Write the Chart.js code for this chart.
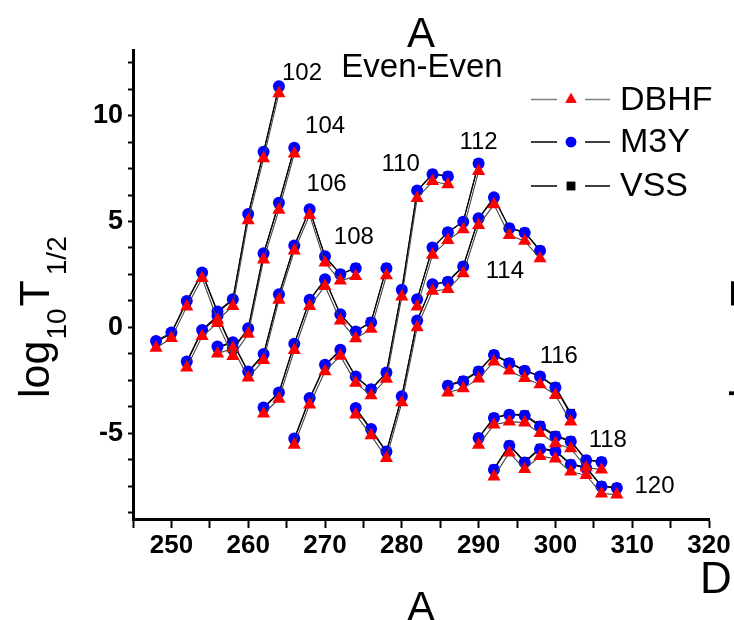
<!DOCTYPE html>
<html lang="en">
<head>
<meta charset="UTF-8">
<title>Even-Even alpha decay half-lives</title>
<script src="https://cdn.jsdelivr.net/npm/chart.js"></script>
<style>
  body { margin: 0; padding: 0; background: #fff; }
  #wrap { width: 734px; height: 620px; }
</style>
</head>
<body>
<div id="wrap"><canvas id="chart" width="734" height="620"></canvas></div>
<script>
// mass numbers A and log10 T1/2, one chain per Z
const a102 = [248, 250, 252, 254, 256, 258, 260, 262, 264];
const dbhf102 = [-0.97, -0.51, 0.98, 2.32, 0.35, 1.0, 5.05, 7.98, 11.05];
const m3y102 = [-0.64, -0.24, 1.25, 2.59, 0.75, 1.33, 5.35, 8.29, 11.39];
const vss102 = [-0.7, -0.28, 1.21, 2.55, 0.7, 1.3, 5.31, 8.25, 11.35];

const a104 = [252, 254, 256, 258, 260, 262, 264, 266];
const dbhf104 = [-1.9, -0.42, 0.2, -1.36, -0.31, 3.2, 5.55, 8.2];
const m3y104 = [-1.61, -0.12, 0.55, -1.0, -0.04, 3.5, 5.89, 8.48];
const vss104 = [-1.66, -0.17, 0.5, -1.05, -0.08, 3.45, 5.85, 8.45];

const a106 = [256, 258, 260, 262, 264, 266, 268, 270, 272, 274];
const dbhf106 = [-1.24, -0.99, -2.38, -1.55, 1.3, 3.62, 5.3, 3.05, 2.2, 2.42];
const m3y106 = [-0.9, -0.7, -2.08, -1.26, 1.56, 3.87, 5.58, 3.36, 2.51, 2.79];
const vss106 = [-0.95, -0.74, -2.12, -1.3, 1.52, 3.83, 5.55, 3.33, 2.52, 2.82];

const a108 = [262, 264, 266, 268, 270, 272, 274, 276, 278];
const dbhf108 = [-4.08, -3.38, -1.08, 1.0, 1.95, 0.32, -0.52, -0.08, 2.45];
const m3y108 = [-3.78, -3.07, -0.77, 1.3, 2.27, 0.62, -0.2, 0.23, 2.79];
const vss108 = [-3.82, -3.1, -0.8, 1.27, 2.25, 0.6, -0.18, 0.27, 2.82];

const a110 = [266, 268, 270, 272, 274, 276, 278, 280, 282, 284, 286];
const dbhf110 = [-5.55, -3.65, -2.08, -1.35, -2.62, -3.22, -2.43, 1.45, 6.1, 6.9, 6.75];
const m3y110 = [-5.25, -3.34, -1.77, -1.06, -2.32, -2.92, -2.13, 1.78, 6.46, 7.23, 7.13];
const vss110 = [-5.3, -3.38, -1.8, -1.1, -2.34, -2.95, -2.16, 1.75, 6.45, 7.25, 7.16];

const a112 = [282, 284, 286, 288, 290];
const dbhf112 = [0.98, 3.42, 4.12, 4.62, 7.38];
const m3y112 = [1.33, 3.77, 4.49, 4.99, 7.74];
const vss112 = [1.3, 3.75, 4.5, 5.0, 7.76];

const a114 = [274, 276, 278, 280, 282, 284, 286, 288, 290, 292, 294, 296, 298];
const dbhf114 = [-4.12, -5.1, -6.18, -3.55, 0.0, 1.72, 1.8, 2.55, 4.82, 5.8, 4.35, 4.08, 3.25];
const m3y114 = [-3.81, -4.8, -5.86, -3.25, 0.33, 2.04, 2.16, 2.87, 5.15, 6.14, 4.68, 4.47, 3.62];
const vss114 = [-3.85, -4.85, -5.9, -3.28, 0.3, 2.02, 2.18, 2.9, 5.12, 6.1, 4.7, 4.5, 3.65];

const a116 = [286, 288, 290, 292, 294, 296, 298, 300, 302];
const dbhf116 = [-3.08, -2.88, -2.42, -1.62, -2.05, -2.4, -2.7, -3.2, -4.45];
const m3y116 = [-2.76, -2.55, -2.08, -1.3, -1.69, -2.05, -2.32, -2.84, -4.13];
const vss116 = [-2.72, -2.5, -2.05, -1.28, -1.65, -2.02, -2.3, -2.8, -4.05];

const a118 = [290, 292, 294, 296, 298, 300, 302, 304, 306];
const dbhf118 = [-5.55, -4.6, -4.45, -4.5, -5.0, -5.48, -5.72, -6.62, -6.72];
const m3y118 = [-5.23, -4.28, -4.13, -4.17, -4.68, -5.15, -5.39, -6.28, -6.36];
const vss118 = [-5.2, -4.25, -4.1, -4.12, -4.62, -5.1, -5.35, -6.25, -6.33];

const a120 = [292, 294, 296, 298, 300, 302, 304, 306, 308];
const dbhf120 = [-7.05, -5.92, -6.7, -6.08, -6.2, -6.82, -6.98, -7.85, -7.9];
const m3y120 = [-6.72, -5.59, -6.38, -5.75, -5.86, -6.49, -6.64, -7.51, -7.59];
const vss120 = [-6.68, -5.55, -6.33, -5.7, -5.82, -6.45, -6.6, -7.48, -7.56];

const chainNames = ['102', '104', '106', '108', '110', '112', '114', '116', '118', '120'];
const massNumbers = [a102, a104, a106, a108, a110, a112, a114, a116, a118, a120];
const dbhfChains = [dbhf102, dbhf104, dbhf106, dbhf108, dbhf110, dbhf112, dbhf114, dbhf116, dbhf118, dbhf120];
const m3yChains = [m3y102, m3y104, m3y106, m3y108, m3y110, m3y112, m3y114, m3y116, m3y118, m3y120];
const vssChains = [vss102, vss104, vss106, vss108, vss110, vss112, vss114, vss116, vss118, vss120];

const xTicks = [250, 260, 270, 280, 290, 300, 310, 320];
const yTicks = [-5, 0, 5, 10];

// where the Z labels sit, in axis units (A, log T)
const labelSpots = {
  '102': [264.4, 11.7], '104': [267.4, 9.2], '106': [267.6, 6.46], '108': [271.15, 3.96],
  '110': [277.36, 7.37], '112': [287.5, 8.44], '114': [290.93, 2.31], '116': [297.95, -1.7],
  '118': [304.33, -5.65], '120': [310.3, -7.83]
};

const FONT = '"Liberation Sans", Arial, sans-serif';

const models = [
  { name: 'DBHF', chains: dbhfChains, line: '#444', fill: '#ff0000', style: 'triangle', r: 7.6 },
  { name: 'M3Y', chains: m3yChains, line: '#000', fill: '#0000ff', style: 'circle', r: 6 },
  { name: 'VSS', chains: vssChains, line: '#000', fill: '#000', style: 'rect', r: 6 }
];

// first datasets end up on top, so DBHF goes first and VSS last
const datasets = [];
models.forEach(function (m) {
  m.chains.forEach(function (vals, i) {
    datasets.push({
      label: m.name + ' Z=' + chainNames[i],
      data: vals.map(function (v, j) { return { x: massNumbers[i][j], y: v }; }),
      borderColor: m.line,
      borderWidth: 1.1,
      pointStyle: m.style,
      pointRadius: m.r,
      pointBackgroundColor: m.fill,
      pointBorderWidth: 0,
      tension: 0,
      fill: false
    });
  });
});

function drawYTitle(ctx, dx) {
  ctx.save();
  ctx.translate(49 + dx, 398);
  ctx.rotate(-Math.PI / 2);
  ctx.fillStyle = '#000';
  ctx.textAlign = 'left';
  ctx.textBaseline = 'alphabetic';
  let x = 0;
  ctx.font = '43px ' + FONT;
  ctx.fillText('log', x, 0);
  x += ctx.measureText('log').width + 1;
  ctx.font = '28px ' + FONT;
  ctx.fillText('10', x, 17);
  x += ctx.measureText('10').width + 2;
  ctx.font = '43px ' + FONT;
  ctx.fillText('T', x, 0);
  x += ctx.measureText('T').width + 5;
  ctx.font = '28px ' + FONT;
  ctx.fillText('1/2', x, 17);
  ctx.restore();
}

const textPlugin = {
  id: 'texts',
  afterDraw(chart) {
    const ctx = chart.ctx;
    const xs = chart.scales.x, ys = chart.scales.y;
    ctx.save();
    ctx.fillStyle = '#000';

    // chain labels
    ctx.font = '24px ' + FONT;
    ctx.textAlign = 'left';
    ctx.textBaseline = 'alphabetic';
    chainNames.forEach(function (n) {
      const p = labelSpots[n];
      ctx.fillText(n, xs.getPixelForValue(p[0]), ys.getPixelForValue(p[1]));
    });

    // titles
    ctx.textAlign = 'center';
    ctx.font = '42px ' + FONT;
    ctx.fillText('A', 421, 47);
    ctx.fillText('A', 421, 621);
    ctx.font = '33px ' + FONT;
    ctx.fillText('Even-Even', 422, 77);
    ctx.textAlign = 'left';
    ctx.font = '44px ' + FONT;
    ctx.fillText('D', 700, 593);

    drawYTitle(ctx, 0);
    drawYTitle(ctx, 711); // the next panel's title, cut by the edge

    // legend: line, marker, line, text
    const rows = [99.5, 142, 186];
    models.forEach(function (m, i) {
      const y = rows[i];
      ctx.strokeStyle = i === 0 ? '#808080' : '#000';
      ctx.lineWidth = 1.3;
      ctx.beginPath();
      ctx.moveTo(531, y); ctx.lineTo(557, y);
      ctx.moveTo(585, y); ctx.lineTo(610, y);
      ctx.stroke();
      ctx.fillStyle = m.fill;
      Chart.helpers.drawPoint(ctx, { pointStyle: m.style, radius: i === 0 ? 6.5 : (i === 1 ? 5.3 : 6), borderWidth: 0 }, 571, y);
      ctx.fill();
      ctx.fillStyle = '#000';
      ctx.font = '34px ' + FONT;
      ctx.textBaseline = 'middle';
      ctx.fillText(m.name, 620, y + 1);
      ctx.textBaseline = 'alphabetic';
    });
    ctx.restore();
  }
};

new Chart(document.getElementById('chart'), {
  type: 'line',
  data: { datasets: datasets },
  options: {
    responsive: false,
    animation: false,
    events: [],
    layout: { padding: { top: 50, right: 25, left: 0, bottom: 0 } },
    plugins: { legend: { display: false }, tooltip: { enabled: false } },
    scales: {
      x: {
        type: 'linear',
        min: 245,
        max: 320,
        border: { display: true, color: '#000', width: 3 },
        grid: { drawOnChartArea: false, drawTicks: true, tickLength: 9, tickWidth: 2, tickColor: '#000' },
        ticks: {
          stepSize: 5,
          autoSkip: false,
          maxRotation: 0,
          padding: 2,
          color: '#000',
          font: { family: FONT, size: 26, weight: 'bold' },
          callback: function (v) { return xTicks.indexOf(v) >= 0 ? String(v) : ''; }
        },
        afterFit: function (s) { s.height = 101; }
      },
      y: {
        type: 'linear',
        min: -9.05,
        max: 13.1,
        border: { display: true, color: '#000', width: 3 },
        grid: { drawOnChartArea: false, drawTicks: true, tickLength: 5, tickWidth: 2, tickColor: '#000' },
        ticks: {
          stepSize: 1.25,
          includeBounds: false,
          autoSkip: false,
          padding: 5,
          color: '#000',
          font: { family: FONT, size: 27, weight: 'bold' },
          callback: function (v) { return yTicks.indexOf(v) >= 0 ? String(v) : ''; }
        },
        afterFit: function (s) { s.width = 133; }
      }
    }
  },
  plugins: [textPlugin]
});
</script>
</body>
</html>
